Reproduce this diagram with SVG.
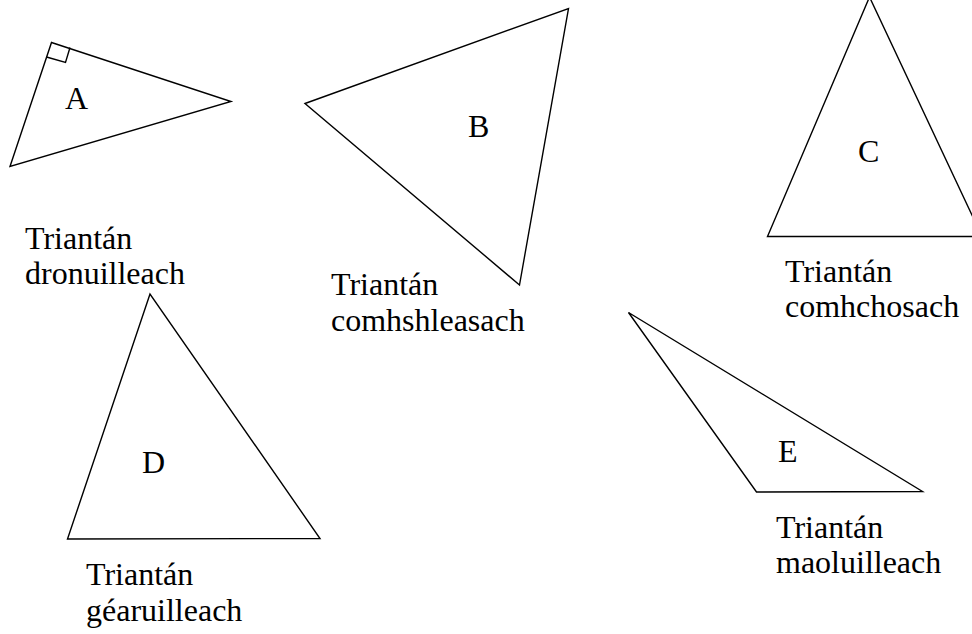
<svg xmlns="http://www.w3.org/2000/svg" width="972" height="634" viewBox="0 0 972 634">
<style>
.tri{fill:none;stroke:#000;stroke-width:1.4;stroke-linejoin:miter}
text{font-family:"Liberation Serif","Times New Roman",serif;font-size:32px;fill:#000}
</style>
<rect width="972" height="634" fill="#fff"/>
<g id="triA">
<polygon class="tri" points="51.5,42.5 231,101.5 10,166.5"/>
<polyline class="tri" points="70,47.5 65.5,62.5 46.5,57"/>
<text x="65" y="109">A</text>
<text x="25" y="249">Triantán</text>
<text x="25" y="284">dronuilleach</text>
</g>
<g id="triB">
<polygon class="tri" points="305,103.5 568.5,8.5 519.5,285"/>
<text x="468" y="137">B</text>
<text x="331" y="295">Triantán</text>
<text x="331" y="331">comhshleasach</text>
</g>
<g id="triC">
<polygon class="tri" points="869.5,-3 767.5,236.5 982,236.5"/>
<text x="858" y="162">C</text>
<text x="785" y="282">Triantán</text>
<text x="785" y="317">comhchosach</text>
</g>
<g id="triD">
<polygon class="tri" points="150,294 67.5,539 320,538.5"/>
<text x="142" y="473">D</text>
<text x="86" y="585">Triantán</text>
<text x="86" y="621">géaruilleach</text>
</g>
<g id="triE">
<polygon class="tri" points="628.5,312.5 756.5,492 922.5,491.5"/>
<text x="778" y="462">E</text>
<text x="776" y="538">Triantán</text>
<text x="776" y="573">maoluilleach</text>
</g>
<g id="connectors"></g>
</svg>
